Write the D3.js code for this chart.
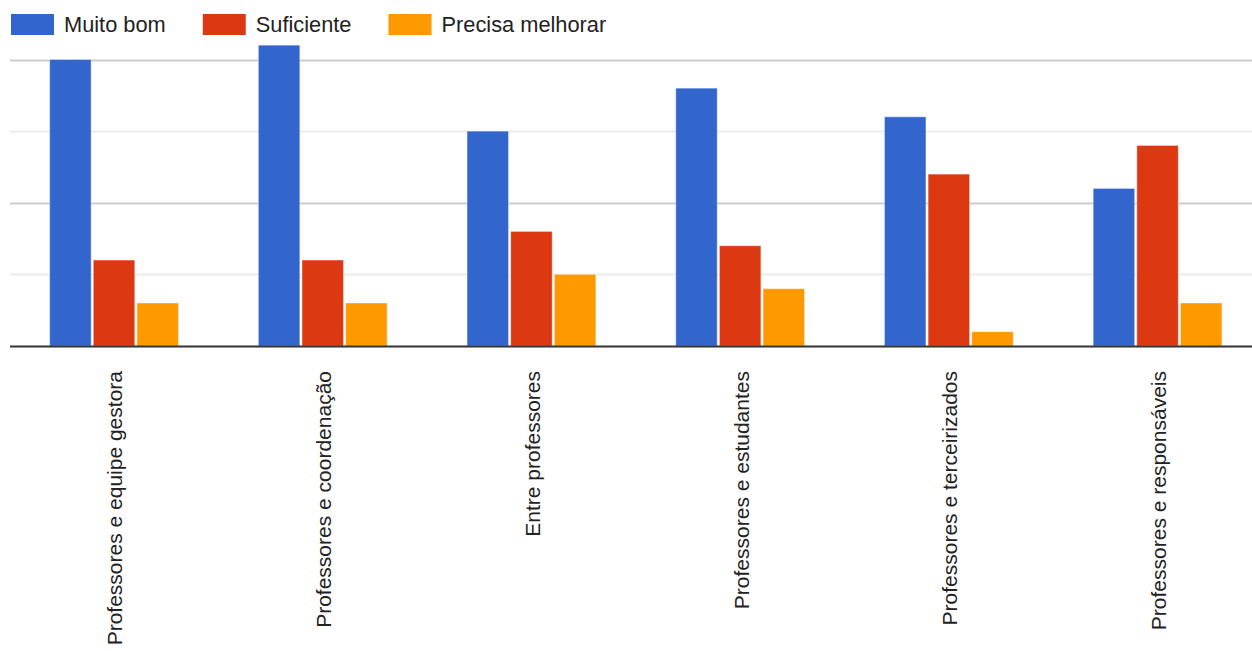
<!DOCTYPE html>
<html>
<head>
<meta charset="utf-8">
<script src="https://cdnjs.cloudflare.com/ajax/libs/d3/7.8.5/d3.min.js"></script>
<style>
  html, body { margin: 0; padding: 0; background: #fff; }
  svg { display: block; font-family: "Liberation Sans", Arial, sans-serif; }
</style>
</head>
<body>
<svg id="chart" width="1252" height="651"></svg>
<script>
// data
var categories = [
  "Professores e equipe gestora",
  "Professores e coordenação",
  "Entre professores",
  "Professores e estudantes",
  "Professores e terceirizados",
  "Professores e responsáveis"
];
var seriesNames = ["Muito bom", "Suficiente", "Precisa melhorar"];
var muitoBom = [20, 21, 15, 18, 16, 11];
var suficiente = [6, 6, 8, 7, 12, 14];
var precisaMelhorar = [3, 3, 5, 4, 1, 3];
var gridValues = [5, 10, 15, 20];
var majorGrid = [10, 20];

var colors = ["#3366cc", "#dc3912", "#ff9900"];
var series = [muitoBom, suficiente, precisaMelhorar];

var svg = d3.select("#chart");

// layout
var plotLeft = 10, plotRight = 1261.6, baseY = 346, topY = 59.5;
var legendFont = 21.8, labelFont = 21;

var x0 = d3.scaleBand()
  .domain(categories)
  .range([plotLeft, plotRight])
  .paddingInner(0.383)
  .paddingOuter(0.19);

var x1 = d3.scaleBand()
  .domain(seriesNames)
  .range([0, x0.bandwidth()])
  .paddingInner(0.05);

var y = d3.scaleLinear()
  .domain([0, 20])
  .range([baseY, topY]);

// gridlines
var g_grid = svg.append("g").attr("id", "g_grid");
g_grid.selectAll("line")
  .data(gridValues)
  .enter()
  .append("line")
  .attr("x1", plotLeft)
  .attr("x2", 1252)
  .attr("y1", function(d) { return Math.round(y(d)) + 0.5; })
  .attr("y2", function(d) { return Math.round(y(d)) + 0.5; })
  .attr("stroke", function(d) { return majorGrid.indexOf(d) >= 0 ? "#cccccc" : "#ebebeb"; })
  .attr("stroke-width", 2);

// bars
var g_bars = svg.append("g").attr("id", "g_bars");
var groups = g_bars.selectAll("g")
  .data(categories)
  .enter()
  .append("g")
  .attr("transform", function(d) { return "translate(" + x0(d) + ",0)"; });

groups.selectAll("rect")
  .data(function(d, i) {
    return seriesNames.map(function(s, j) { return { name: s, value: series[j][i], color: colors[j] }; });
  })
  .enter()
  .append("rect")
  .attr("x", function(d) { return x1(d.name); })
  .attr("y", function(d) { return y(d.value); })
  .attr("width", x1.bandwidth())
  .attr("height", function(d) { return baseY - y(d.value); })
  .attr("fill", function(d) { return d.color; })
  .attr("stroke", "#ffffff")
  .attr("stroke-opacity", 0.4)
  .attr("stroke-width", 1);

// baseline
svg.append("line")
  .attr("x1", plotLeft)
  .attr("x2", 1252)
  .attr("y1", baseY + 0.5)
  .attr("y2", baseY + 0.5)
  .attr("stroke", "#333333")
  .attr("stroke-width", 2);

// category labels, rotated
var g_text = svg.append("g").attr("id", "g_text");
g_text.selectAll("text")
  .data(categories)
  .enter()
  .append("text")
  .attr("transform", function(d) {
    return "translate(" + (x0(d) + x0.bandwidth() / 2 + 1) + "," + 371 + ") rotate(-90)";
  })
  .attr("dy", "0.35em")
  .attr("text-anchor", "end")
  .attr("font-size", labelFont)
  .attr("fill", "#222222")
  .text(function(d) { return d; });

// legend
var g_legend = svg.append("g").attr("id", "g_legend");
var lx = 11;
seriesNames.forEach(function(name, j) {
  g_legend.append("rect")
    .attr("x", lx)
    .attr("y", 14)
    .attr("width", 43)
    .attr("height", 21)
    .attr("fill", colors[j]);
  var t = g_legend.append("text")
    .attr("x", lx + 53)
    .attr("y", 32)
    .attr("font-size", legendFont)
    .attr("fill", "#222222")
    .text(name);
  lx = lx + 53 + t.node().getComputedTextLength() + 37;
});
</script>
</body>
</html>
